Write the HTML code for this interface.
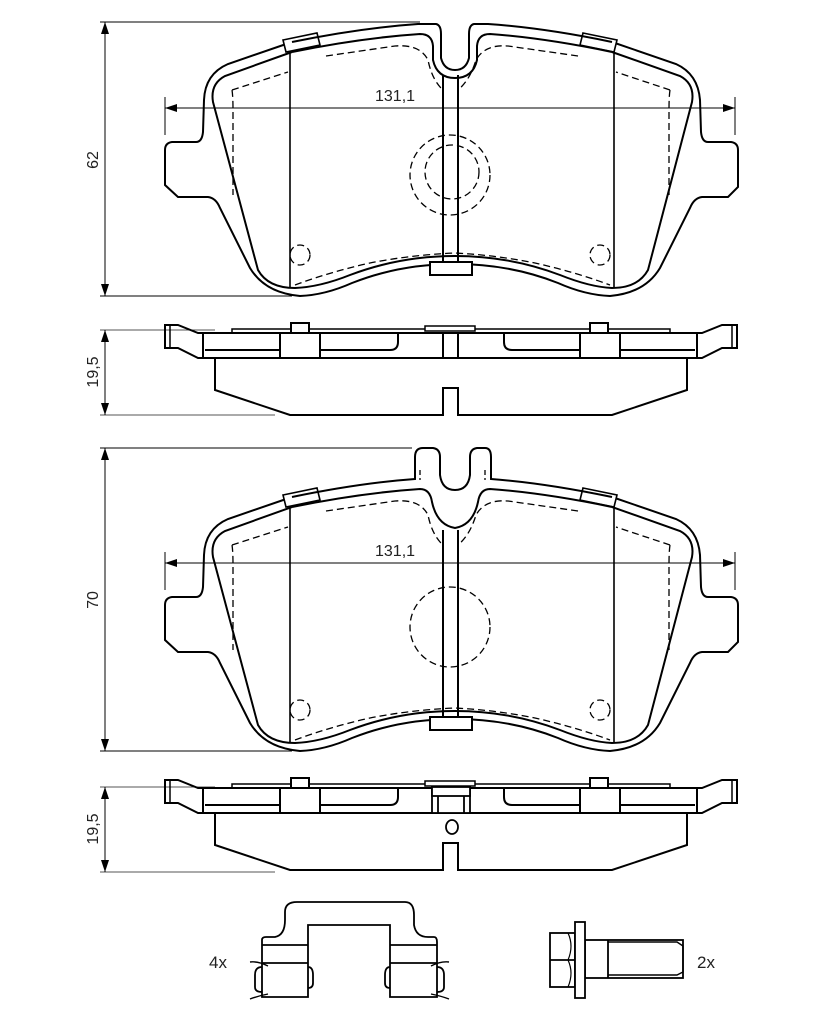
<!DOCTYPE html>
<html><head><meta charset="utf-8"><style>
html,body{margin:0;padding:0;background:#fff;}
svg{display:block;}
text{font-family:"Liberation Sans",sans-serif;fill:#222;}
</style></head><body>
<svg width="827" height="1024" viewBox="0 0 827 1024" xmlns="http://www.w3.org/2000/svg">
<defs>
<marker id="ar" markerWidth="12" markerHeight="8" refX="12" refY="4" orient="auto" markerUnits="userSpaceOnUse"><path d="M0,0 L12,4 L0,8 z" fill="#000"/></marker>
<marker id="al" markerWidth="12" markerHeight="8" refX="0" refY="4" orient="auto" markerUnits="userSpaceOnUse"><path d="M12,0 L0,4 L12,8 z" fill="#000"/></marker>
<g id="padbody">
  <!-- left / right / bottom outer -->
  <path d="M292,42 L228,64 Q205,74 204,100 L203,132 Q202,142 196,142 L172,142 Q165,143 165,150 L165,185 L178,197 L208,197 Q216,198 220,208 L250,268 Q265,293 300,296 Q325,295 352,283 Q400,264 455,264 Q510,264 558,283 Q585,295 610,296 Q645,293 660,268 L690,208 Q694,198 702,197 L728,197 L738,187 L738,150 Q738,143 731,142 L708,142 Q702,142 701,132 L700,100 Q698,74 676,64 L612,42" fill="none" stroke="#000" stroke-width="2"/>
  <!-- inner friction outline -->
  <path d="M292,52 L225,76 Q210,84 213,102 L258,270 Q268,288 295,288 Q320,287 350,275 Q400,256 455,256 Q510,256 560,275 Q590,287 612,288 Q638,288 648,270 L692,102 Q695,84 680,76 L612,52" fill="none" stroke="#000" stroke-width="2"/>
  <!-- verticals -->
  <line x1="290" y1="52" x2="290" y2="288" stroke="#000" stroke-width="1.6"/>
  <line x1="614" y1="52" x2="614" y2="288" stroke="#000" stroke-width="1.6"/>
  <line x1="443" y1="75" x2="443" y2="262" stroke="#000" stroke-width="2"/>
  <line x1="458" y1="75" x2="458" y2="262" stroke="#000" stroke-width="2"/>
  <!-- bottom tab -->
  <rect x="430" y="262" width="42" height="13" fill="#fff" stroke="#000" stroke-width="2"/>
  <!-- top tabs -->
  <path d="M283,40 L317,33 L320,45 L286,52 z" fill="#fff" stroke="#000" stroke-width="1.6"/>
  <path d="M583,33 L617,40 L614,52 L580,45 z" fill="#fff" stroke="#000" stroke-width="1.6"/>
  <!-- dashed -->
  <g fill="none" stroke="#000" stroke-width="1.3" stroke-dasharray="7,4">
    <path d="M232,90 L288,72 M232,90 Q233,96 233,110 L233,195"/>
    <path d="M670,90 L616,72 M670,90 Q669,96 669,110 L669,195"/>
    <path d="M326,56 L395,46 Q420,44 428,60 Q432,80 443,90"/>
    <path d="M578,56 L508,46 Q485,44 476,60 Q470,80 458,90"/>
    <path d="M295,285 Q330,272 370,263 Q410,255 455,253 Q495,255 535,263 Q575,272 610,285"/>
    <circle cx="300" cy="255" r="10"/>
    <circle cx="600" cy="255" r="10"/>
  </g>
</g>
<g id="side">
  <rect x="232" y="329" width="438" height="4" fill="#fff" stroke="#000" stroke-width="1.5"/>
  <rect x="425" y="326" width="50" height="5" fill="#fff" stroke="#000" stroke-width="1.5"/>
  <rect x="291" y="323" width="18" height="10" fill="#fff" stroke="#000" stroke-width="2"/>
  <rect x="590" y="323" width="18" height="10" fill="#fff" stroke="#000" stroke-width="2"/>
  <rect x="203" y="333" width="494" height="25" fill="#fff" stroke="#000" stroke-width="2"/>
  <path d="M203,333 L198,333 L178,325 L165,325 L165,348 L178,348 L198,358 L203,358" fill="none" stroke="#000" stroke-width="2"/>
  <line x1="170" y1="325" x2="170" y2="348" stroke="#000" stroke-width="1.5"/>
  <path d="M697,333 L702,333 L722,325 L737,325 L737,348 L722,348 L702,358 L697,358" fill="none" stroke="#000" stroke-width="2"/>
  <line x1="732" y1="325" x2="732" y2="348" stroke="#000" stroke-width="1.5"/>
  <g fill="none" stroke="#000" stroke-width="2">
    <path d="M205,350 L280,350 M280,333 L280,358 M320,333 L320,358 M320,350 L390,350 Q398,350 398,342 L398,333"/>
    <path d="M695,350 L620,350 M620,333 L620,358 M580,333 L580,358 M580,350 L512,350 Q504,350 504,342 L504,333"/>
    <path d="M443,333 L443,358 M458,333 L458,358"/>
    <path d="M215,358 L215,390 L290,415 L443,415 L443,388 L458,388 L458,415 L612,415 L687,390 L687,358"/>
  </g>
</g>
</defs>

<!-- ========== PAD 1 ========== -->
<g stroke="#000" stroke-width="1" fill="none">
  <line x1="100" y1="22" x2="420" y2="22"/>
  <line x1="100" y1="296" x2="292" y2="296"/>
  <line x1="105" y1="22" x2="105" y2="296" marker-start="url(#al)" marker-end="url(#ar)"/>
</g>
<text x="98" y="160" font-size="16" transform="rotate(-90 98 160)" text-anchor="middle">62</text>
<use href="#padbody"/>
<!-- top center notch pad1 -->
<path d="M292,42 Q360,28 418,24 L436,24 Q441,25 441,34 L441,58 Q444,70 455,70 Q466,70 469,58 L469,34 Q469,25 474,24 L488,24 Q545,28 612,42" fill="none" stroke="#000" stroke-width="2"/>
<path d="M292,52 Q360,38 420,34 Q432,34 433,46 L433,60 Q437,78 455,78 Q473,78 477,60 L477,46 Q478,34 490,34 Q545,38 612,52" fill="none" stroke="#000" stroke-width="2"/>
<g fill="none" stroke="#000" stroke-width="1.3" stroke-dasharray="7,4">
  <circle cx="450" cy="175" r="40"/>
  <circle cx="452" cy="172" r="27"/>
</g>
<line x1="165" y1="108" x2="735" y2="108" stroke="#000" stroke-width="1" marker-start="url(#al)" marker-end="url(#ar)"/>
<line x1="165" y1="97" x2="165" y2="135" stroke="#000" stroke-width="1"/>
<line x1="735" y1="97" x2="735" y2="135" stroke="#000" stroke-width="1"/>
<text x="375" y="101" font-size="16">131,1</text>

<!-- side 1 -->
<g stroke="#555" stroke-width="1">
  <line x1="100" y1="330" x2="215" y2="330"/>
  <line x1="100" y1="415" x2="275" y2="415"/>
</g>
<line x1="105" y1="330" x2="105" y2="415" stroke="#000" stroke-width="1" marker-start="url(#al)" marker-end="url(#ar)"/>
<text x="98" y="372" font-size="16" transform="rotate(-90 98 372)" text-anchor="middle">19,5</text>
<use href="#side"/>

<!-- ========== PAD 2 ========== -->
<g stroke="#000" stroke-width="1" fill="none">
  <line x1="100" y1="448" x2="412" y2="448"/>
  <line x1="100" y1="751" x2="292" y2="751"/>
  <line x1="105" y1="448" x2="105" y2="751" marker-start="url(#al)" marker-end="url(#ar)"/>
</g>
<text x="98" y="600" font-size="16" transform="rotate(-90 98 600)" text-anchor="middle">70</text>
<g transform="translate(0,455)"><use href="#padbody"/></g>
<path d="M292,497 Q360,483 415,479 L415,457 Q415,448 423,448 L433,448 Q440,449 440,457 L440,475 Q442,490 455,490 Q468,490 470,475 L470,457 Q470,449 477,448 L485,448 Q491,448 491,457 L491,479 Q545,483 612,497" fill="none" stroke="#000" stroke-width="2"/>
<path d="M292,507 Q360,493 420,489 Q430,489 432,502 Q437,525 455,528 Q473,525 478,502 Q480,489 490,489 Q545,493 612,507" fill="none" stroke="#000" stroke-width="2"/>
<path d="M420,470 L420,480 M485,470 L485,480" stroke="#000" stroke-width="1.3" stroke-dasharray="5,3"/>
<circle cx="450" cy="627" r="40" fill="none" stroke="#000" stroke-width="1.3" stroke-dasharray="7,4"/>
<line x1="165" y1="563" x2="735" y2="563" stroke="#000" stroke-width="1" marker-start="url(#al)" marker-end="url(#ar)"/>
<line x1="165" y1="552" x2="165" y2="590" stroke="#000" stroke-width="1"/>
<line x1="735" y1="552" x2="735" y2="590" stroke="#000" stroke-width="1"/>
<text x="375" y="556" font-size="16">131,1</text>

<!-- side 2 -->
<g stroke="#555" stroke-width="1">
  <line x1="100" y1="787" x2="215" y2="787"/>
  <line x1="100" y1="872" x2="275" y2="872"/>
</g>
<line x1="105" y1="787" x2="105" y2="872" stroke="#000" stroke-width="1" marker-start="url(#al)" marker-end="url(#ar)"/>
<text x="98" y="829" font-size="16" transform="rotate(-90 98 829)" text-anchor="middle">19,5</text>
<g transform="translate(0,455)"><use href="#side"/></g>
<rect x="432" y="787" width="38" height="26" fill="#fff" stroke="#000" stroke-width="1.8"/>
<rect x="432" y="787" width="38" height="9" fill="#fff" stroke="#000" stroke-width="1.8"/>
<line x1="438" y1="796" x2="438" y2="813" stroke="#000" stroke-width="1.8"/>
<line x1="464" y1="796" x2="464" y2="813" stroke="#000" stroke-width="1.8"/>
<ellipse cx="452" cy="827" rx="6" ry="7" fill="#fff" stroke="#000" stroke-width="1.8"/>

<!-- ========== CLIP ========== -->
<g fill="none" stroke="#000" stroke-width="1.8">
  <path d="M262,997 L262,940 Q262,937 266,937 L275,937 Q285,935 285,920 L285,912 Q285,902 297,902 L405,902 Q414,902 414,915 L414,925 Q416,937 428,937 L434,937 Q437,937 437,942 L437,997 L390,997 L390,925 L308,925 L308,997 Z"/>
  <path d="M262,945 L308,945 M262,963 L308,963 M390,945 L437,945 M390,963 L437,963"/>
  <path d="M262,967 Q255,967 255,975 L255,987 Q255,992 262,992 M308,967 Q313,967 313,975 L313,983 Q313,988 308,988"/>
  <path d="M437,967 Q444,967 444,975 L444,987 Q444,992 437,992 M390,967 Q385,967 385,975 L385,983 Q385,988 390,988"/>
  <path d="M250,962 Q258,961 268,966 M250,999 Q258,996 268,994 M449,962 Q441,961 431,966 M449,999 Q441,996 431,994" stroke-width="1.4"/>
</g>
<text x="209" y="968" font-size="17">4x</text>

<!-- ========== BOLT ========== -->
<g fill="#fff" stroke="#000" stroke-width="1.8">
  <rect x="585" y="940" width="98" height="38"/>
  <path d="M608,942 L677,942 L683,946 L683,972 L677,975 L608,975" fill="none" stroke-width="1.4"/>
  <line x1="608" y1="940" x2="608" y2="978"/>
  <rect x="550" y="933" width="25" height="54"/>
  <line x1="550" y1="960" x2="575" y2="960"/>
  <path d="M568,933 Q574,946 568,960 Q574,973 568,987" fill="none" stroke-width="1.2"/>
  <rect x="575" y="922" width="10" height="76"/>
</g>
<text x="697" y="968" font-size="17">2x</text>
</svg>
</body></html>
